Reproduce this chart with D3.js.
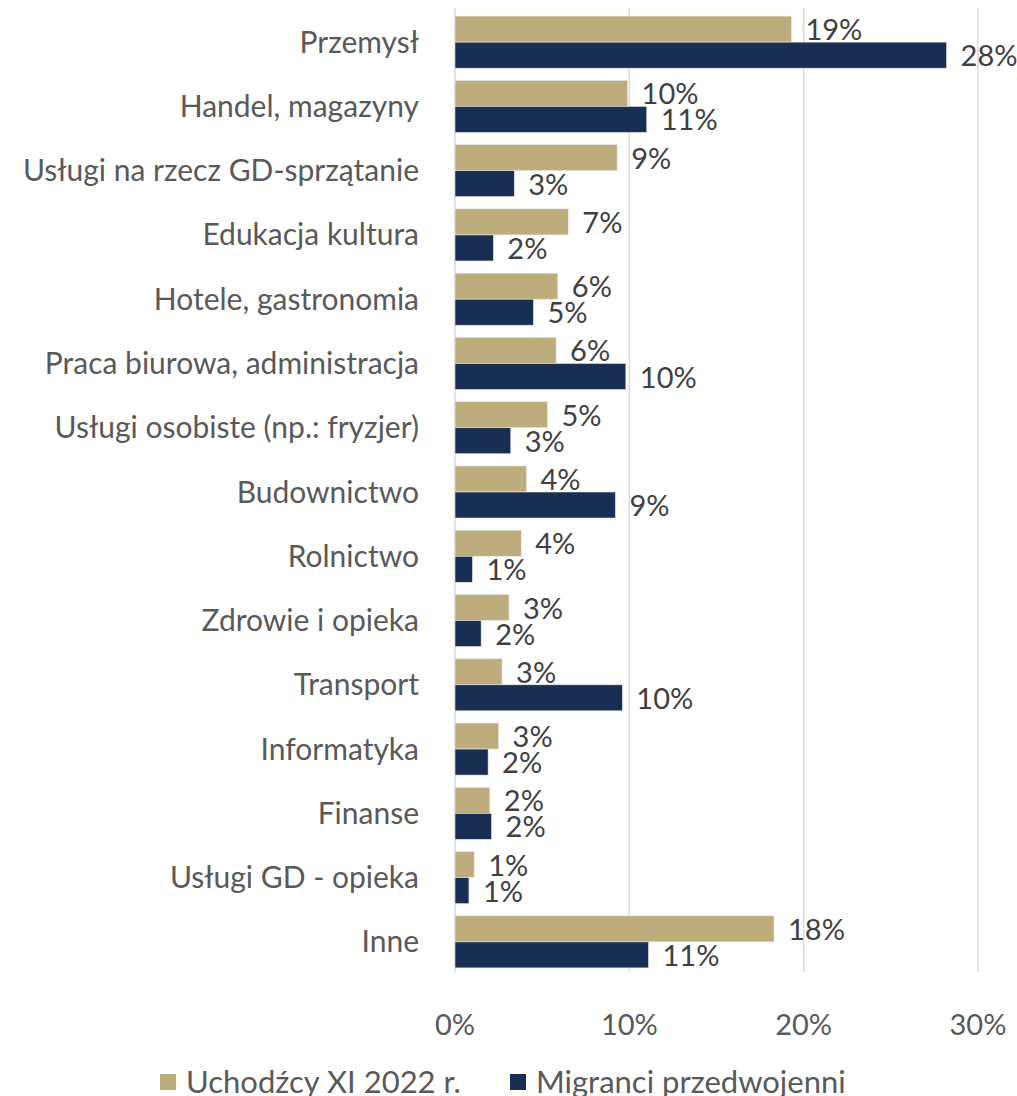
<!DOCTYPE html>
<html>
<head>
<meta charset="utf-8">
<script src="https://cdn.jsdelivr.net/npm/d3@7"></script>
<style>
  body { margin: 0; background: #fff; }
  svg { font-family: Lato, "Noto Sans", sans-serif; }
</style>
</head>
<body>
<script>
// categories, top to bottom
var categories = ["Przemysł", "Handel, magazyny", "Usługi na rzecz GD-sprzątanie", "Edukacja kultura",
  "Hotele, gastronomia", "Praca biurowa, administracja", "Usługi osobiste (np.: fryzjer)", "Budownictwo",
  "Rolnictwo", "Zdrowie i opieka", "Transport", "Informatyka", "Finanse", "Usługi GD - opieka", "Inne"];

// series values in percent
var uchodzcy = [19.3, 9.9, 9.3, 6.5, 5.9, 5.8, 5.3, 4.1, 3.8, 3.1, 2.7, 2.5, 2.0, 1.1, 18.3];
var migranci = [28.2, 11.0, 3.4, 2.2, 4.5, 9.8, 3.2, 9.2, 1.0, 1.5, 9.6, 1.9, 2.1, 0.8, 11.1];

var seriesNames = ["Uchodźcy XI 2022 r.", "Migranci przedwojenni"];
var seriesColors = ["#bead7c", "#182e52"];
var xTicks = [0, 10, 20, 30];

var width = 1017, height = 1096;
var plotLeft = 455, plotRight = 978, plotTop = 10, plotBottom = 974;

var svg = d3.select("body").append("svg")
    .attr("width", width)
    .attr("height", height);

var x = d3.scaleLinear().domain([0, 30]).range([plotLeft, plotRight]);
var y = d3.scaleBand().domain(categories).range([plotTop, plotBottom]).paddingInner(0.19).paddingOuter(0.095);
var sub = d3.scaleBand().domain([0, 1]).range([0, y.bandwidth()]);

// gridlines
svg.append("g").selectAll("line")
    .data(xTicks)
    .enter().append("line")
        .attr("x1", function(d){ return x(d); })
        .attr("x2", function(d){ return x(d); })
        .attr("y1", plotTop - 2)
        .attr("y2", plotBottom - 2)
        .attr("stroke", "#d9d9d9")
        .attr("stroke-width", 1.5);

// x axis tick labels
svg.append("g").selectAll("text")
    .data(xTicks)
    .enter().append("text")
        .attr("x", function(d){ return x(d); })
        .attr("y", 1035)
        .attr("text-anchor", "middle")
        .attr("fill", "#595959")
        .attr("font-size", 29)
        .text(function(d){ return d + "%"; });

// category labels
svg.append("g").selectAll("text")
    .data(categories)
    .enter().append("text")
        .attr("x", 419)
        .attr("y", function(d){ return y(d) + y.bandwidth() / 2; })
        .attr("dy", "0.35em")
        .attr("text-anchor", "end")
        .attr("fill", "#595959")
        .attr("font-size", 30)
        .text(function(d){ return d; });

var series = [uchodzcy, migranci];

series.forEach(function(vals, s) {
  var g = svg.append("g");
  g.selectAll("rect")
      .data(vals)
      .enter().append("rect")
          .attr("x", x(0))
          .attr("y", function(d, i){ return y(categories[i]) + sub(s); })
          .attr("width", function(d){ return x(d) - x(0); })
          .attr("height", sub.bandwidth())
          .attr("fill", seriesColors[s])
          .attr("stroke", "#e8e8e8")
          .attr("stroke-width", 0.6);

  g.selectAll("text")
      .data(vals)
      .enter().append("text")
          .attr("x", function(d){ return x(d) + 14; })
          .attr("y", function(d, i){ return y(categories[i]) + sub(s) + sub.bandwidth() / 2; })
          .attr("dy", "0.38em")
          .attr("fill", "#404040")
          .attr("font-size", 29)
          .text(function(d){ return Math.round(d) + "%"; });
});

// legend
var legendX = [160, 510];
var leg = svg.append("g").selectAll("g")
    .data(seriesNames)
    .enter().append("g")
        .attr("transform", function(d, i){ return "translate(" + legendX[i] + ",1074)"; });

leg.append("rect")
    .attr("width", 16)
    .attr("height", 16)
    .attr("fill", function(d, i){ return seriesColors[i]; });

leg.append("text")
    .attr("x", 26)
    .attr("y", 8)
    .attr("dy", "0.36em")
    .attr("fill", "#595959")
    .attr("font-size", 31)
    .text(function(d){ return d; });
</script>
</body>
</html>
